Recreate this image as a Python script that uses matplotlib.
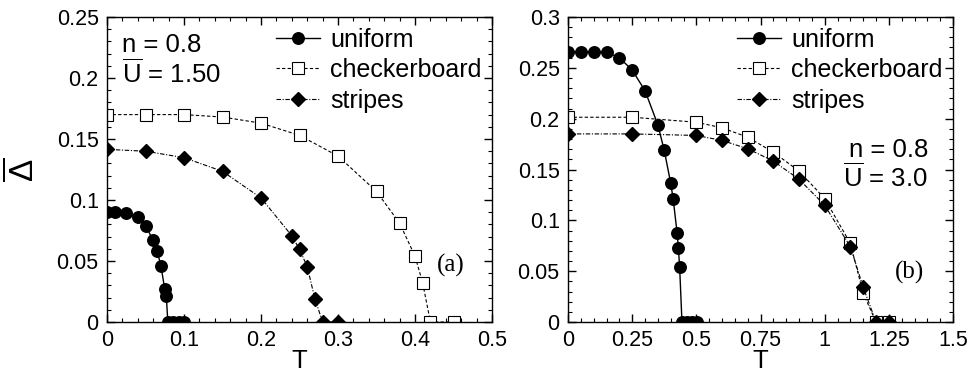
import numpy as np
import matplotlib
matplotlib.use("Agg")
import matplotlib.pyplot as plt
from matplotlib.ticker import MultipleLocator

plt.rcParams['font.family'] = ['Liberation Sans', 'DejaVu Sans']
plt.rcParams['mathtext.fontset'] = 'custom'
plt.rcParams['mathtext.rm'] = 'Liberation Sans'
plt.rcParams['mathtext.it'] = 'Liberation Sans'

# panel (a): U = 1.50
Ta_uni = [0, 0.01, 0.025, 0.04, 0.05, 0.06, 0.065, 0.07, 0.075, 0.077, 0.079, 0.086, 0.093, 0.1]
Da_uni = [0.090, 0.090, 0.0895, 0.0857, 0.079, 0.067, 0.0585, 0.0462, 0.0269, 0.0215, 0, 0, 0, 0]
Ta_chk = [0, 0.05, 0.1, 0.15, 0.2, 0.25, 0.3, 0.35, 0.38, 0.40, 0.41, 0.42, 0.45]
Da_chk = [0.170, 0.170, 0.170, 0.168, 0.163, 0.153, 0.136, 0.107, 0.081, 0.054, 0.032, 0, 0]
Ta_str = [0, 0.05, 0.1, 0.15, 0.2, 0.24, 0.25, 0.26, 0.27, 0.28, 0.30]
Da_str = [0.1415, 0.140, 0.1347, 0.1235, 0.1017, 0.0707, 0.0596, 0.0454, 0.019, 0, 0]

# panel (b): U = 3.0
Tb_uni = [0, 0.05, 0.1, 0.15, 0.2, 0.25, 0.3, 0.35, 0.375, 0.4, 0.41, 0.425, 0.43, 0.435,
          0.444, 0.462, 0.483, 0.503]
Db_uni = [0.266, 0.266, 0.266, 0.2654, 0.260, 0.2478, 0.2276, 0.194, 0.1688, 0.1368, 0.1205,
          0.0878, 0.0731, 0.0539, 0, 0, 0, 0]
Tb_chk = [0, 0.25, 0.5, 0.6, 0.7, 0.8, 0.9, 1.0, 1.1, 1.15, 1.2, 1.25]
Db_chk = [0.2014, 0.2014, 0.1965, 0.191, 0.1818, 0.167, 0.1485, 0.1214, 0.0774, 0.0284, 0, 0]
Tb_str = [0, 0.25, 0.5, 0.6, 0.7, 0.8, 0.9, 1.0, 1.1, 1.15, 1.2, 1.25]
Db_str = [0.185, 0.185, 0.1835, 0.1786, 0.1704, 0.1583, 0.1404, 0.1149, 0.0741, 0.0343, 0, 0]

xa_ticks = [0, 0.1, 0.2, 0.3, 0.4, 0.5]
xa_labels = ['0', '0.1', '0.2', '0.3', '0.4', '0.5']
ya_ticks = [0, 0.05, 0.1, 0.15, 0.2, 0.25]
ya_labels = ['0', '0.05', '0.1', '0.15', '0.2', '0.25']
xb_ticks = [0, 0.25, 0.5, 0.75, 1.0, 1.25, 1.5]
xb_labels = ['0', '0.25', '0.5', '0.75', '1', '1.25', '1.5']
yb_ticks = [0, 0.05, 0.1, 0.15, 0.2, 0.25, 0.3]
yb_labels = ['0', '0.05', '0.1', '0.15', '0.2', '0.25', '0.3']

fig = plt.figure(figsize=(9.69, 3.74), dpi=100)
axa = fig.add_axes([107/969, 52/374, 385/969, 305/374])
axb = fig.add_axes([568/969, 52/374, 385/969, 305/374])


def draw(ax, T_u, D_u, T_c, D_c, T_s, D_s):
    ax.plot(T_u, D_u, '-', color='k', lw=1, marker='o', ms=8.3, mfc='k', label='uniform', zorder=3)
    ax.plot(T_c, D_c, '--', color='k', lw=0.8, dashes=(3, 2), marker='s', ms=8.5, mfc='white',
            mec='k', mew=0.8, label='checkerboard', zorder=2)
    ax.plot(T_s, D_s, '-.', color='k', lw=0.8, dashes=(4, 1.5, 1, 1.5), marker='D', ms=7.3, mfc='k',
            label='stripes', zorder=2)
    ax.tick_params(which='both', direction='in', top=True, right=True, labelsize=15.5, pad=6)
    ax.tick_params(which='major', length=6, width=1)
    ax.tick_params(which='minor', length=3, width=0.8)
    for s in ax.spines.values():
        s.set_linewidth(1)
    ax.set_xlabel('T', fontsize=18.5, va='bottom')
    ax.xaxis.set_label_coords(0.5, -51.5/305)
    ax.legend(loc='upper left', bbox_to_anchor=(0.44, 0.965), fontsize=18, frameon=False,
              handlelength=1.75, handletextpad=0.4, labelspacing=0.26, borderpad=0,
              borderaxespad=0)


draw(axa, Ta_uni, Da_uni, Ta_chk, Da_chk, Ta_str, Da_str)
axa.set_xlim(0, 0.5)
axa.set_ylim(0, 0.25)
axa.set_xticks(xa_ticks)
axa.set_xticklabels(xa_labels)
axa.set_yticks(ya_ticks)
axa.set_yticklabels(ya_labels)
axa.xaxis.set_minor_locator(MultipleLocator(0.02))
axa.yaxis.set_minor_locator(MultipleLocator(0.01))
axa.set_ylabel(r'$\overline{\Delta}$', fontsize=24, labelpad=12)
axa.text(0.04, 0.886, 'n = 0.8', transform=axa.transAxes, fontsize=18.5, ha='left', va='baseline')
axa.text(0.04, 0.784, r'$\overline{\mathrm{U}}$ = 1.50', transform=axa.transAxes, fontsize=18.5,
         ha='left', va='baseline')
axa.text(0.894, 0.187, '(a)', transform=axa.transAxes, fontsize=18, family='Liberation Serif',
         ha='center', va='center')

draw(axb, Tb_uni, Db_uni, Tb_chk, Db_chk, Tb_str, Db_str)
axb.set_xlim(0, 1.5)
axb.set_ylim(0, 0.3)
axb.set_xticks(xb_ticks)
axb.set_xticklabels(xb_labels)
axb.set_yticks(yb_ticks)
axb.set_yticklabels(yb_labels)
axb.xaxis.set_minor_locator(MultipleLocator(0.05))
axb.yaxis.set_minor_locator(MultipleLocator(0.01))
axb.text(0.935, 0.542, 'n = 0.8', transform=axb.transAxes, fontsize=18.5, ha='right', va='baseline')
axb.text(0.935, 0.442, r'$\overline{\mathrm{U}}$ = 3.0', transform=axb.transAxes, fontsize=18.5,
         ha='right', va='baseline')
axb.text(0.888, 0.164, '(b)', transform=axb.transAxes, fontsize=18, family='Liberation Serif',
         ha='center', va='center')

fig.savefig('out.png', dpi=100)
